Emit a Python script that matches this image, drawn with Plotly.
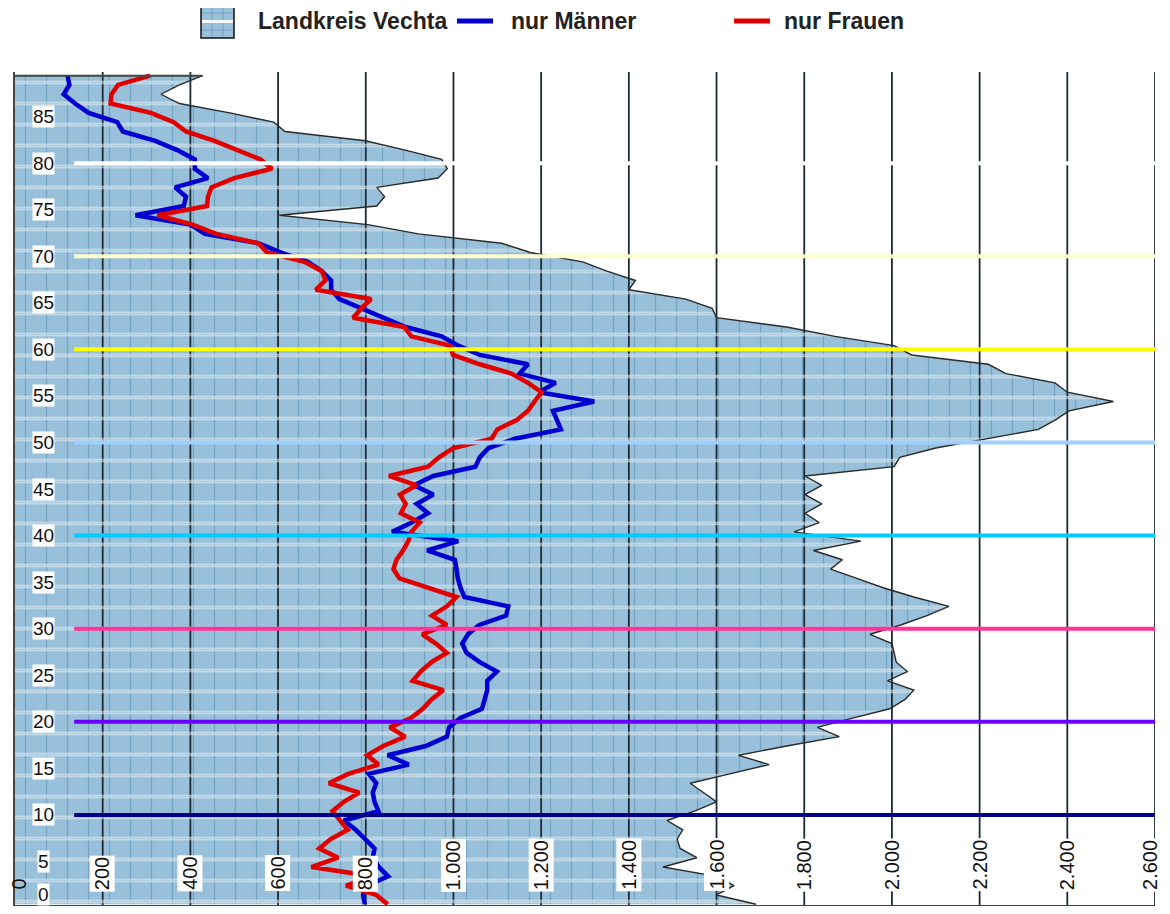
import plotly.graph_objects as go

# Alter 0..89, Einwohner je Altersjahr (Landkreis Vechta gesamt, Männer, Frauen)
ages = list(range(90))

total = [1690, 1600, 1640, 1600, 1478, 1555, 1517, 1510, 1523, 1487,
         1550, 1600, 1570, 1540, 1630, 1720, 1650, 1760, 1880, 1830,
         1910, 1995, 2030, 2050, 1990, 2035, 2010, 2005, 2000, 1950,
         2020, 2080, 2130, 2050, 1980, 1920, 1860, 1887, 1821, 1929,
         1777, 1834, 1802, 1840, 1802, 1840, 1802, 2005, 2018, 2100,
         2215, 2334, 2372, 2404, 2505, 2400, 2372, 2260, 2220, 2045,
         2005, 1870, 1760, 1600, 1590, 1530, 1400, 1415, 1350, 1295,
         1175, 1110, 920, 805, 603, 825, 843, 825, 965, 986,
         973, 890, 799, 616, 590, 490, 375, 333, 375, 428]

men = [798, 794, 803, 851, 830, 816, 820, 800, 777, 750,
       829, 820, 816, 824, 807, 898, 850, 937, 985, 990,
       1016, 1065, 1072, 1077, 1077, 1099, 1060, 1030, 1020, 1033,
       1059, 1120, 1125, 1025, 1016, 1010, 1007, 1003, 940, 1011,
       860, 905, 942, 916, 954, 910, 954, 1050, 1060, 1080,
       1140, 1245, 1236, 1227, 1321, 1195, 1233, 1151, 1170, 1060,
       1011, 973, 891, 842, 790, 740, 721, 721, 700, 668,
       607, 555, 433, 400, 275, 385, 390, 365, 440, 410,
       410, 370, 320, 246, 233, 168, 137, 111, 124, 120]

women = [850, 824, 755, 816, 676, 737, 694, 720, 759, 742,
         724, 750, 785, 716, 760, 829, 803, 840, 890, 855,
         903, 930, 950, 977, 907, 925, 950, 985, 960, 929,
         985, 951, 985, 1007, 940, 877, 863, 870, 885, 897,
         904, 923, 880, 891, 878, 916, 853, 942, 967, 1000,
         1087, 1100, 1144, 1170, 1185, 1201, 1170, 1132, 1060, 999,
         992, 904, 888, 771, 790, 812, 686, 708, 700, 660,
         575, 555, 459, 405, 325, 438, 440, 448, 500, 586,
         560, 510, 455, 390, 362, 310, 218, 220, 235, 308]

x_ticks = list(range(0, 2601, 200))
x_tick_text = ["0", "200", "400", "600", "800", "1.000", "1.200", "1.400",
               "1.600", "1.800", "2.000", "2.200", "2.400", "2.600"]
y_ticks = list(range(0, 90, 5))

decades = [10, 20, 30, 40, 50, 60, 70, 80]
decade_colors = ["#000088", "#6a00ff", "#ff3399", "#00ccff",
                 "#9fcfff", "#ffff00", "#ffffcc", "#ffffff"]

# Seite hat 8px Body-Rand: Figur so groß, dass alles genau ins Fenster passt
W, H = 1154, 898
M = dict(l=7, r=7, t=64, b=1)
Y0, Y1 = 0.322, 89.79
FONT = "Arial, Liberation Sans, sans-serif"
BLUE_BG, BLUE_FG = "#98c0da", "#74a3c3"
STRIPE = "#f6f9fb"

pos = [a + 0.4 for a in ages]  # Altersjahr mittig im Band


def px(xp):  # Seiten-Pixel -> paper
    return (xp - 15) / 1140


def py(yp):
    return (905 - yp) / 833


fig = go.Figure()

# Fläche mit feinem Raster
fig.add_trace(go.Scatter(
    x=total, y=pos, mode="lines", fill="tozerox", line=dict(width=0),
    fillcolor=BLUE_BG,
    fillpattern=dict(shape="+", bgcolor=BLUE_BG, fgcolor=BLUE_FG, size=21,
                     solidity=0.12, fillmode="replace"),
    hoverinfo="skip", showlegend=False))

# vertikale Gitterlinien über der Fläche
gx, gy = [], []
for v in x_ticks[1:]:
    gx += [v, v, None]
    gy += [Y0, Y1, None]
fig.add_trace(go.Scatter(x=gx, y=gy, mode="lines",
                         line=dict(color="#1c2a35", width=1.8),
                         hoverinfo="skip", showlegend=False))

# weiße Querstreifen nur innerhalb der Fläche
fig.add_trace(go.Scatter(
    x=total, y=pos, mode="lines", fill="tozerox", line=dict(width=0),
    fillcolor="rgba(0,0,0,0)",
    fillpattern=dict(shape="-", bgcolor="rgba(0,0,0,0)", fgcolor=STRIPE,
                     size=21, solidity=0.17),
    hoverinfo="skip", showlegend=False))

# Umriss
fig.add_trace(go.Scatter(x=total, y=pos, mode="lines",
                         line=dict(color="#2a2a2a", width=1.4),
                         hoverinfo="skip", showlegend=False))

fig.add_trace(go.Scatter(x=men, y=pos, mode="lines", name="nur Männer",
                         line=dict(color="#0000d0", width=4.5), showlegend=False))
fig.add_trace(go.Scatter(x=women, y=pos, mode="lines", name="nur Frauen",
                         line=dict(color="#e00000", width=4.5), showlegend=False))

shapes = []
# oberer Abschluss der Fläche
shapes.append(dict(type="line", x0=0, x1=total[-1], y0=pos[-1], y1=pos[-1],
                   line=dict(color="#444", width=2)))
# Dekaden-Linien
for d, c in zip(decades, decade_colors):
    shapes.append(dict(type="line", x0=135, x1=2600, y0=d, y1=d,
                       line=dict(color=c, width=4)))

# eigene Legende
shapes += [
    dict(type="rect", xref="paper", yref="paper", x0=px(201), x1=px(234),
         y0=py(38), y1=py(5), fillcolor=BLUE_BG, line=dict(color="#111", width=1.5)),
    dict(type="line", xref="paper", yref="paper", x0=px(212), x1=px(212),
         y0=py(37), y1=py(6), line=dict(color=BLUE_FG, width=1)),
    dict(type="line", xref="paper", yref="paper", x0=px(223), x1=px(223),
         y0=py(37), y1=py(6), line=dict(color=BLUE_FG, width=1)),
    dict(type="line", xref="paper", yref="paper", x0=px(202), x1=px(233),
         y0=py(13), y1=py(13), line=dict(color=BLUE_FG, width=1)),
    dict(type="line", xref="paper", yref="paper", x0=px(202), x1=px(233),
         y0=py(30), y1=py(30), line=dict(color=BLUE_FG, width=1)),
    dict(type="line", xref="paper", yref="paper", x0=px(202), x1=px(233),
         y0=py(21.5), y1=py(21.5), line=dict(color=STRIPE, width=3)),
    dict(type="line", xref="paper", yref="paper", x0=px(457), x1=px(493),
         y0=py(21), y1=py(21), line=dict(color="#0000d0", width=5)),
    dict(type="line", xref="paper", yref="paper", x0=px(734), x1=px(770),
         y0=py(21), y1=py(21), line=dict(color="#e00000", width=5)),
]

annotations = []
for txt, xp in [("Landkreis Vechta", 256), ("nur Männer", 509), ("nur Frauen", 782)]:
    annotations.append(dict(xref="paper", yref="paper", x=px(xp), y=py(21),
                            xanchor="left", yanchor="middle", text=txt, showarrow=False,
                            font=dict(family=FONT, size=23, color="#222", weight="bold")))

# Achsenbeschriftung Alter (innen, weiß hinterlegt)
for a in y_ticks:
    annotations.append(dict(x=66, y=max(a, 1.5), text=str(a), showarrow=False,
                            xanchor="center", yanchor="middle",
                            bgcolor="white", borderpad=0,
                            font=dict(family=FONT, size=19, color="#111")))

# Achsenbeschriftung Einwohner (senkrecht, innen)
for v, t in zip(x_ticks, x_tick_text):
    shift = 4 if v == x_ticks[0] else (-5 if v == x_ticks[-1] else 0)
    annotations.append(dict(x=v, y=1.72, text=t, showarrow=False, textangle=-90,
                            xanchor="center", yanchor="bottom", xshift=shift,
                            bgcolor=None if v == 0 else "white", borderpad=1,
                            font=dict(family=FONT, size=20, color="#111")))

fig.update_layout(
    width=W, height=H, margin=M,
    paper_bgcolor="white", plot_bgcolor="white",
    showlegend=False, shapes=shapes, annotations=annotations,
    xaxis=dict(range=[0, 2600], tickvals=x_ticks, showticklabels=False,
               showgrid=False, zeroline=False, showline=True, linecolor="#444",
               linewidth=2, ticks="", fixedrange=True),
    yaxis=dict(range=[Y0, Y1], showticklabels=False, showgrid=False, zeroline=False,
               showline=True, linecolor="#444", linewidth=2, ticks="", fixedrange=True),
)

fig.write_html("out.html")
